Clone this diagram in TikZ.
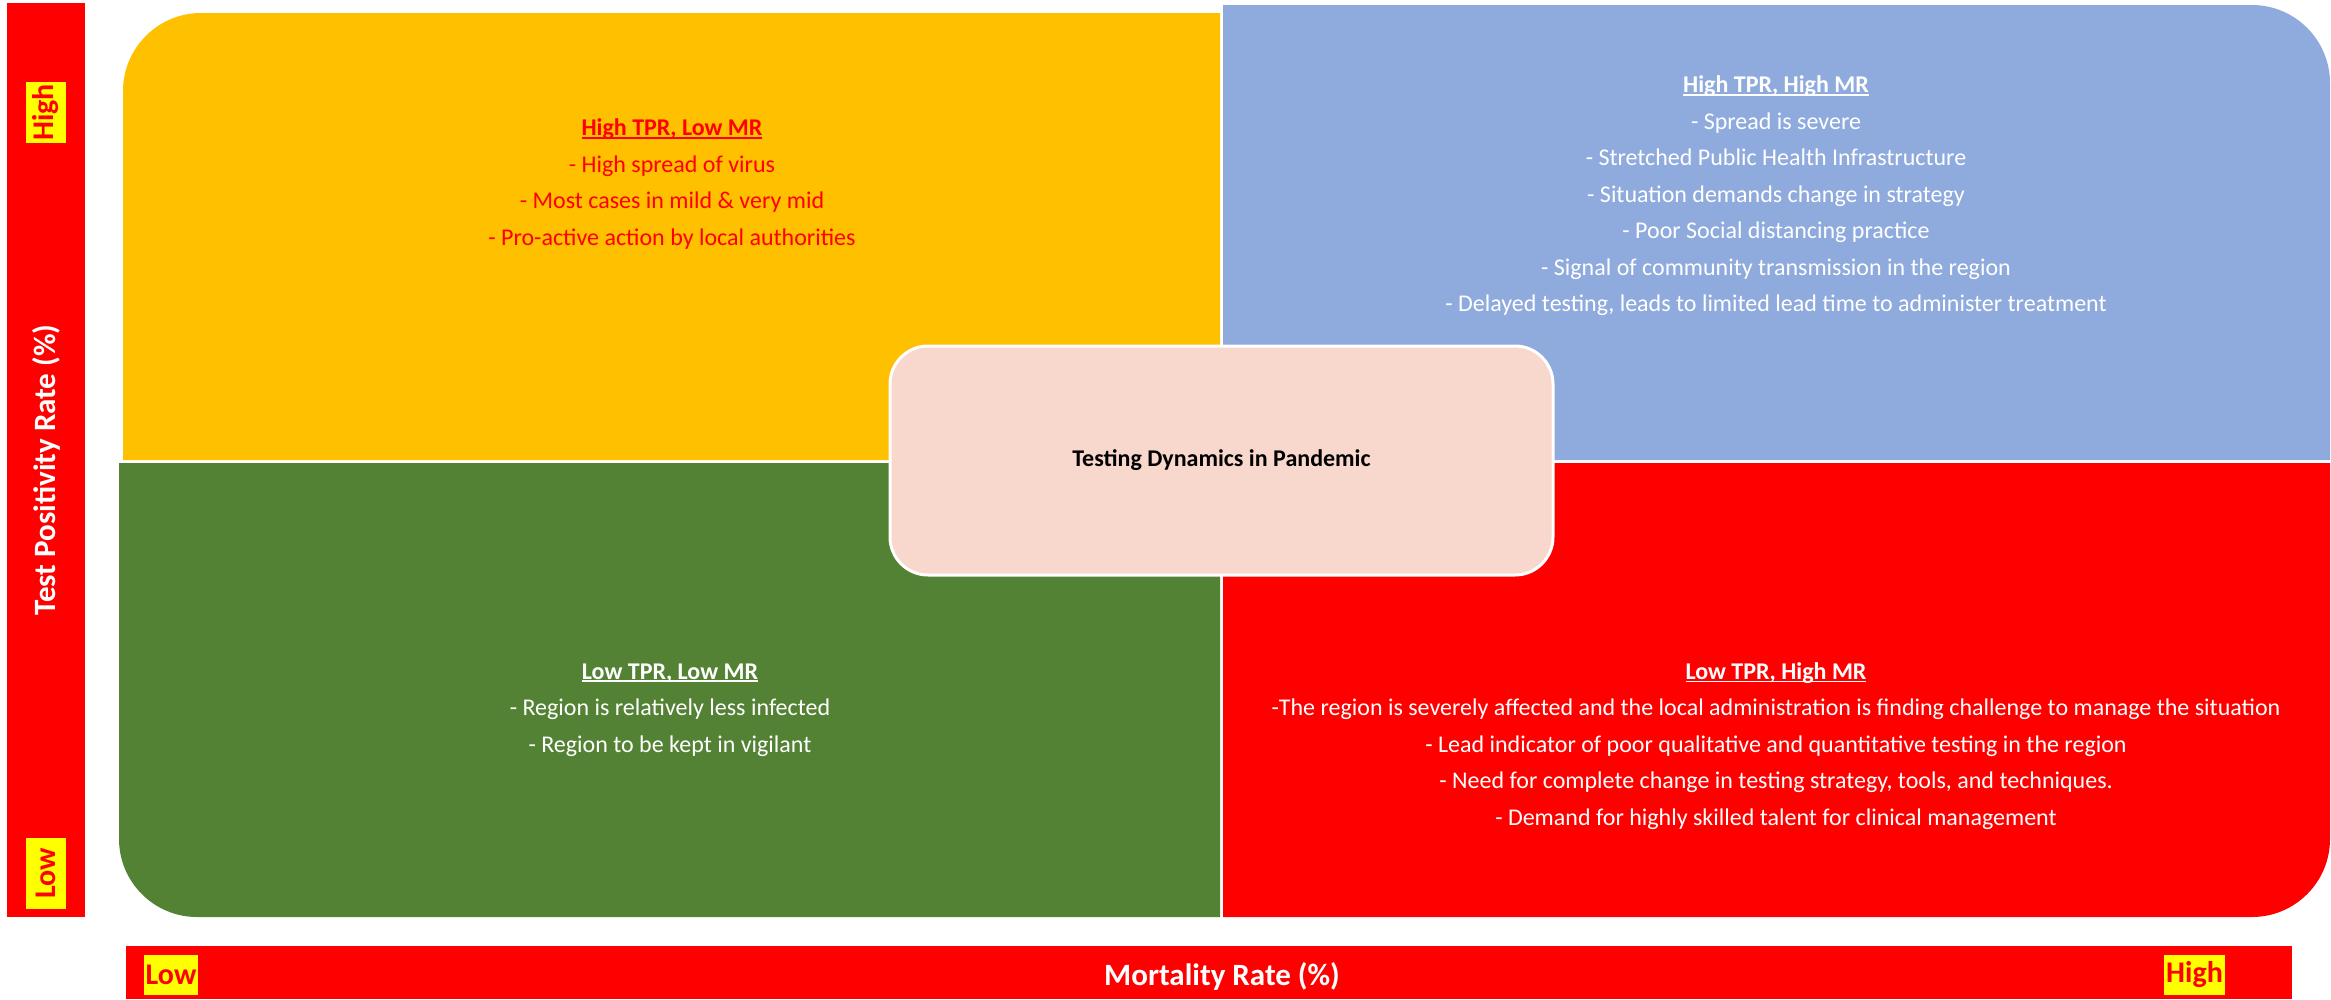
\documentclass[tikz,border=0pt]{standalone}
\usepackage{fontspec}
\setmainfont{Carlito}
\definecolor{qyellow}{HTML}{FFC000}
\definecolor{qblue}{HTML}{8FAADC}
\definecolor{qgreen}{HTML}{548235}
\definecolor{qred}{HTML}{FF0000}
\definecolor{qpink}{HTML}{F8D7CC}
\definecolor{tagyellow}{HTML}{FFFF00}
\newcommand{\qul}[1]{\setbox0\hbox{#1}\rlap{\rule[-3pt]{\wd0}{1.8pt}}\box0}
\begin{document}
\begin{tikzpicture}[x=1pt,y=-1pt,
  body/.style={align=center,font=\fontsize{24}{36.5}\selectfont,inner sep=0pt},
  tag/.style={fill=tagyellow,text=qred,font=\bfseries\fontsize{30}{30}\selectfont,inner sep=0pt},
  axislabel/.style={text=white,font=\bfseries\fontsize{31}{31}\selectfont,inner sep=0pt},
  bar/.style={fill=qred}]
\useasboundingbox (0,0) rectangle (2331,999);
% quadrants
\fill[qyellow] (123,460) -- (123,91) .. controls (123,48) and (158,13) .. (201,13) -- (1220,13) -- (1220,460) -- cycle;
\fill[qblue] (1223,5) -- (2252,5) .. controls (2295,5) and (2330,40) .. (2330,83) -- (2330,460) -- (1223,460) -- cycle;
\fill[qgreen] (119,463) -- (1220,463) -- (1220,917) -- (197,917) .. controls (154,917) and (119,882) .. (119,839) -- cycle;
\fill[qred] (1223,463) -- (2330,463) -- (2330,839) .. controls (2330,882) and (2295,917) .. (2252,917) -- (1223,917) -- cycle;
% quadrant texts
\node[body,text=qred] (tl) at (672,184) {\textbf{\qul{High TPR, Low MR}}\\- High spread of virus\\- Most cases in mild \& very mid\\- Pro-active action by local authorities};
\node[body,text=white] (tr) at (1776,196) {\textbf{\qul{High TPR, High MR}}\\- Spread is severe\\- Stretched Public Health Infrastructure\\- Situation demands change in strategy\\- Poor Social distancing practice\\- Signal of community transmission in the region\\- Delayed testing, leads to limited lead time to administer treatment};
\node[body,text=white] (bl) at (670,710) {\textbf{\qul{Low TPR, Low MR}}\\- Region is relatively less infected\\- Region to be kept in vigilant};
\node[body,text=white] (br) at (1776,746) {\textbf{\qul{Low TPR, High MR}}\\-The region is severely affected and the local administration is finding challenge to manage the situation\\- Lead indicator of poor qualitative and quantitative testing in the region\\- Need for complete change in testing strategy, tools, and techniques.\\- Demand for highly skilled talent for clinical management};
% centre
\node[draw=white,line width=3pt,fill=qpink,rounded corners=38pt,minimum width=663pt,minimum height=229pt,font=\bfseries\fontsize{24}{28}\selectfont] (centre) at (1221.5,460.5) {Testing Dynamics in Pandemic};
% left axis
\fill[bar] (7,3) rectangle (85,917);
\node[tag,rotate=90,minimum width=61pt,minimum height=40pt] (yhigh) at (46,112.5) {High};
\node[tag,rotate=90,minimum width=71pt,minimum height=40pt] (ylow) at (46,873.5) {Low};
\node[axislabel,rotate=90] (ytitle) at (46,470) {Test Positivity Rate (\%)};
% bottom axis
\fill[bar] (126,946) rectangle (2292,999);
\node[tag,minimum width=54pt,minimum height=40pt] (xlow) at (171,975) {Low};
\node[tag,minimum width=61pt,minimum height=40pt] (xhigh) at (2194.5,975) {High};
\node[axislabel] (xtitle) at (1222,976) {Mortality Rate (\%)};
\end{tikzpicture}
\end{document}
